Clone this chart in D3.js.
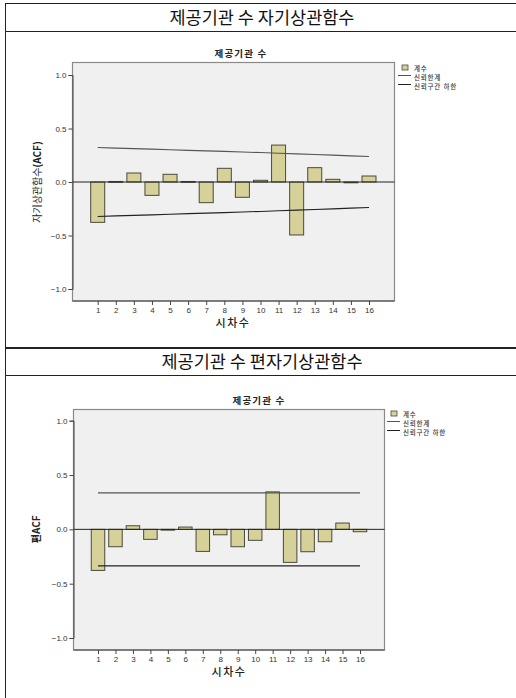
<!DOCTYPE html>
<html>
<head>
<meta charset="utf-8">
<script src="https://cdn.jsdelivr.net/npm/d3@7"></script>
<style>
  html, body { margin: 0; padding: 0; background: #fff; }
  svg { display: block; }
  text { font-family: "Liberation Sans", Arial, "Noto Sans CJK KR", sans-serif; }
  .kr { font-family: "Noto Sans CJK KR", "Liberation Sans", sans-serif; }
</style>
</head>
<body>
<svg id="chart" width="516" height="698"></svg>
<script>
// Lags 1..16
const lags = [1, 2, 3, 4, 5, 6, 7, 8, 9, 10, 11, 12, 13, 14, 15, 16];

// Autocorrelation coefficients
const acfValues = [-0.377, 0.005, 0.084, -0.125, 0.072, 0.005, -0.193, 0.128,
                   -0.143, 0.016, 0.345, -0.495, 0.134, 0.025, -0.004, 0.056];
const acfUpper = [0.322, 0.317, 0.312, 0.307, 0.302, 0.296, 0.291, 0.286,
                  0.280, 0.275, 0.269, 0.263, 0.257, 0.251, 0.244, 0.238];
const acfLower = [-0.322, -0.317, -0.312, -0.307, -0.302, -0.296, -0.291, -0.286,
                  -0.280, -0.275, -0.269, -0.263, -0.257, -0.251, -0.244, -0.238];

// Partial autocorrelation coefficients
const pacfValues = [-0.378, -0.160, 0.033, -0.092, -0.003, 0.021, -0.203, -0.050,
                    -0.160, -0.101, 0.345, -0.304, -0.206, -0.114, 0.058, -0.022];
const pacfUpper = [0.336, 0.336, 0.336, 0.336, 0.336, 0.336, 0.336, 0.336,
                   0.336, 0.336, 0.336, 0.336, 0.336, 0.336, 0.336, 0.336];
const pacfLower = [-0.336, -0.336, -0.336, -0.336, -0.336, -0.336, -0.336, -0.336,
                   -0.336, -0.336, -0.336, -0.336, -0.336, -0.336, -0.336, -0.336];

const yTicks = [1.0, 0.5, 0.0, -0.5, -1.0];
const legendLabels = ["계수", "신뢰한계", "신뢰구간 하한"];

const svg = d3.select("#chart");

// Outer frames with section headers
function section(top, bottom, title) {
  const g = svg.append("g");
  g.append("rect").attr("x", 5.5).attr("y", top + 0.5)
    .attr("width", 520).attr("height", bottom - top)
    .attr("fill", "none").attr("stroke", "#222").attr("stroke-width", 1);
  g.append("line").attr("x1", 5.5).attr("x2", 516)
    .attr("y1", top + 28.5).attr("y2", top + 28.5)
    .attr("stroke", "#222");
  g.append("text").attr("class", "kr")
    .attr("x", 262).attr("y", top + 21)
    .attr("text-anchor", "middle").attr("font-size", 17.5)
    .attr("fill", "#111").text(title);
}
section(3, 348, "제공기관 수 자기상관함수");
section(347, 720, "제공기관 수 편자기상관함수");

function panel(cfg) {
  const g = svg.append("g");
  const x = d3.scaleLinear().domain([1, 16]).range([cfg.x1, cfg.x16]);
  const y = d3.scaleLinear().domain([-1, 1]).range([cfg.yMinus1, cfg.yPlus1]);

  // plot background
  g.append("rect").attr("x", cfg.left).attr("y", cfg.top)
    .attr("width", cfg.right - cfg.left).attr("height", cfg.bottom - cfg.top)
    .attr("fill", "#f0f0f0").attr("stroke", "#8a8a8a").attr("stroke-width", 1.2);

  // subtitle
  g.append("text").attr("class", "kr")
    .attr("x", cfg.titleX).attr("y", cfg.top - 6)
    .attr("text-anchor", "middle").attr("font-size", 9.5).attr("font-weight", "bold")
    .attr("letter-spacing", 1.2).attr("fill", "#222").text("제공기관 수");

  // bars
  g.selectAll("rect.bar").data(lags).enter().append("rect")
    .attr("class", "bar")
    .attr("x", d => x(d) - cfg.barW / 2)
    .attr("width", cfg.barW)
    .attr("y", (d, i) => y(Math.max(0, cfg.values[i])))
    .attr("height", (d, i) => Math.max(0.8, Math.abs(y(cfg.values[i]) - y(0))))
    .attr("fill", "#d6d099").attr("stroke", "#4a4a3a").attr("stroke-width", 1);

  // zero reference line
  g.append("line").attr("x1", cfg.left).attr("x2", cfg.right)
    .attr("y1", y(0)).attr("y2", y(0))
    .attr("stroke", "#222").attr("stroke-width", 1);

  // confidence limits
  const line = d3.line().x(d => x(d[0])).y(d => y(d[1]));
  g.append("path").datum(lags.map((l, i) => [l, cfg.upper[i]]))
    .attr("d", line).attr("fill", "none").attr("stroke", "#555").attr("stroke-width", 1.1);
  g.append("path").datum(lags.map((l, i) => [l, cfg.lower[i]]))
    .attr("d", line).attr("fill", "none").attr("stroke", "#222").attr("stroke-width", 1.1);

  // axes
  const yAxis = d3.axisLeft(y).tickValues(yTicks).tickSize(4).tickPadding(2)
    .tickFormat(d3.format(".1f"));
  const ya = g.append("g").attr("transform", `translate(${cfg.left},0)`).call(yAxis);
  ya.select(".domain").attr("stroke", "#444");
  ya.selectAll(".tick line").attr("stroke", "#444");
  ya.selectAll(".tick text").attr("font-size", 8).attr("fill", "#333")
    .attr("font-family", "Liberation Sans, Arial, sans-serif");

  const xAxis = d3.axisBottom(x).tickValues(lags).tickSize(4).tickPadding(2)
    .tickFormat(d3.format("d"));
  const xa = g.append("g").attr("transform", `translate(0,${cfg.bottom})`).call(xAxis);
  xa.select(".domain").remove();
  xa.append("line").attr("x1", cfg.left).attr("x2", cfg.right)
    .attr("stroke", "#444").attr("stroke-width", 1.2);
  xa.selectAll(".tick line").attr("stroke", "#444");
  xa.selectAll(".tick text").attr("font-size", 8).attr("fill", "#333")
    .attr("font-family", "Liberation Sans, Arial, sans-serif");

  // axis titles
  g.append("text").attr("class", "kr")
    .attr("x", cfg.xTitleX).attr("y", cfg.bottom + 26)
    .attr("text-anchor", "middle").attr("font-size", 11).attr("font-weight", 500)
    .attr("letter-spacing", 1.5).attr("fill", "#222").text("시차수");
  const yt = g.append("text").attr("class", "kr")
    .attr("transform", `translate(${cfg.yTitleX},${y(0)}) rotate(-90)`)
    .attr("text-anchor", "middle").attr("font-size", cfg.yTitleSize)
    .attr("fill", "#222");
  yt.append("tspan").attr("font-weight", cfg.yTitleWeight).text(cfg.yTitleA);
  yt.append("tspan").attr("font-weight", "bold").text(cfg.yTitleB);

  // legend
  const lg = g.append("g").attr("transform", `translate(${cfg.legX},${cfg.legY})`);
  lg.append("rect").attr("x", 2).attr("y", 0).attr("width", 6).attr("height", 5)
    .attr("fill", "#d6d099").attr("stroke", "#4a4a3a").attr("stroke-width", 0.8);
  lg.append("line").attr("x1", -2).attr("x2", 11).attr("y1", 10.5).attr("y2", 10.5)
    .attr("stroke", "#555").attr("stroke-width", 1);
  lg.append("line").attr("x1", -2).attr("x2", 11).attr("y1", 19.5).attr("y2", 19.5)
    .attr("stroke", "#222").attr("stroke-width", 1);
  lg.selectAll("text.leg").data(legendLabels).enter().append("text")
    .attr("class", "kr leg")
    .attr("x", 14).attr("y", (d, i) => 5.5 + i * 9.3)
    .attr("font-size", 6.5).attr("font-weight", 500).attr("letter-spacing", 0.8).attr("fill", "#333")
    .text(d => d);
}

panel({
  left: 72.5, right: 394.5, top: 62.5, bottom: 301,
  x1: 97.7, x16: 369, yPlus1: 75, yMinus1: 289, barW: 14,
  values: acfValues, upper: acfUpper, lower: acfLower,
  titleX: 241, xTitleX: 233, yTitleX: 41,
  yTitleA: "자기상관함수", yTitleB: "(ACF)", yTitleSize: 10, yTitleWeight: "normal",
  legX: 400, legY: 65
});

panel({
  left: 73.5, right: 384.5, top: 409.5, bottom: 650,
  x1: 98, x16: 360, yPlus1: 420.7, yMinus1: 638, barW: 13.5,
  values: pacfValues, upper: pacfUpper, lower: pacfLower,
  titleX: 259, xTitleX: 229, yTitleX: 40,
  yTitleA: "편", yTitleB: "ACF", yTitleSize: 10, yTitleWeight: "bold",
  legX: 389, legY: 411
});
</script>
</body>
</html>
